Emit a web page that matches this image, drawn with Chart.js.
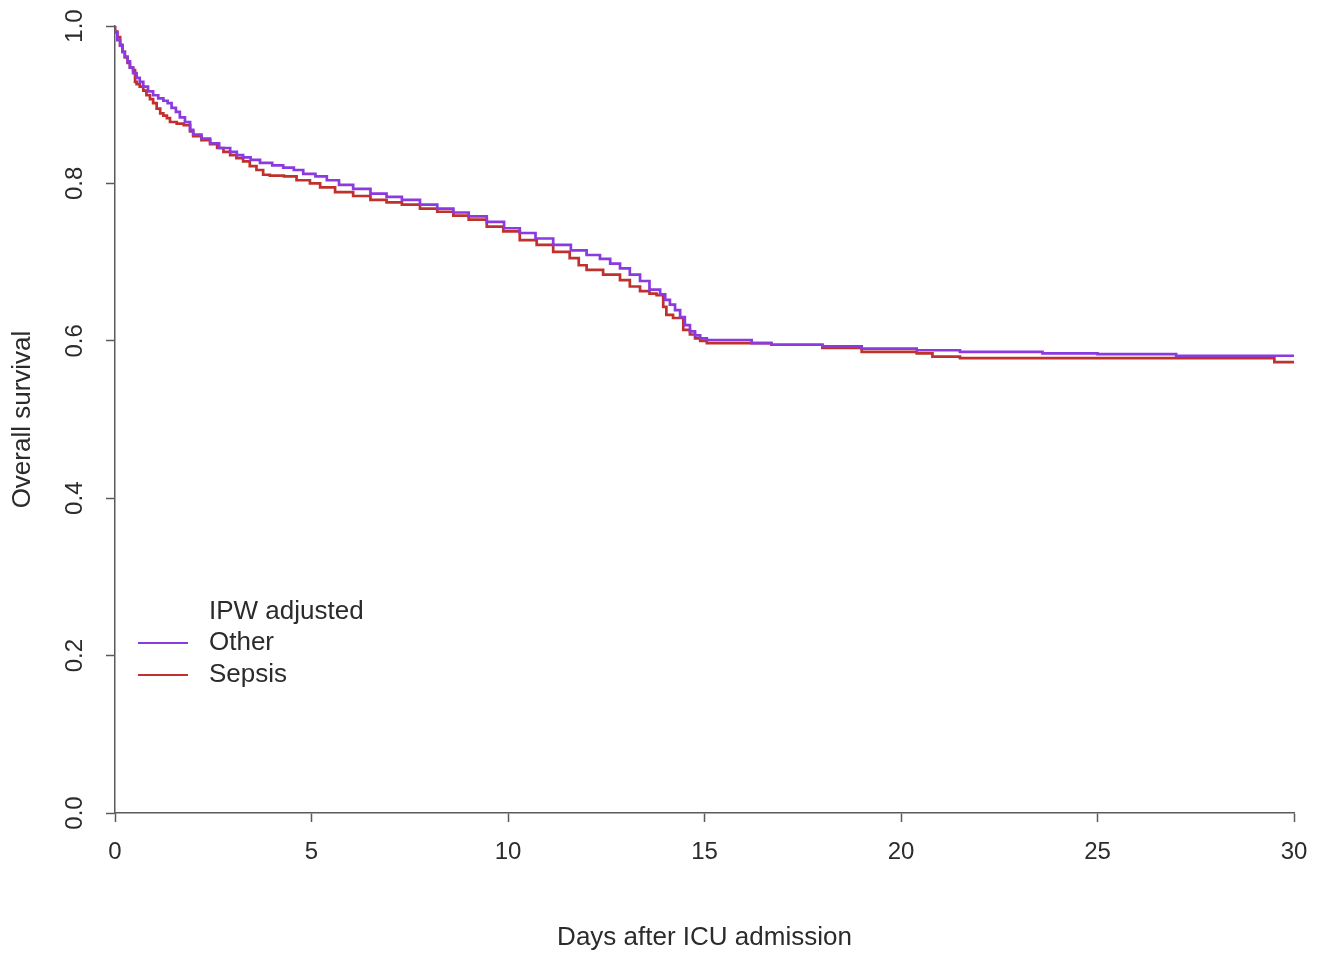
<!DOCTYPE html>
<html>
<head>
<meta charset="utf-8">
<script src="https://cdn.jsdelivr.net/npm/chart.js@4/dist/chart.umd.min.js"></script>
<style>
    html, body { margin: 0; padding: 0; background: #fff; }
    #wrap { width: 1317px; height: 953px; }
</style>
</head>
<body>
<div id="wrap"><canvas id="kmChart"></canvas></div>
<script>
// days after ICU admission and survival estimates
let otherDays = [0, 0.06, 0.13, 0.19, 0.25, 0.32, 0.38, 0.46, 0.55, 0.63, 0.72, 0.84, 0.97, 1.1, 1.23, 1.34, 1.44, 1.55, 1.65, 1.78,
    1.91, 1.99, 2.2, 2.42, 2.65, 2.93, 3.1, 3.26, 3.45, 3.69, 4.0, 4.28, 4.55, 4.79, 5.1, 5.39, 5.7, 6.06, 6.5, 6.91,
    7.3, 7.76, 8.2, 8.61, 9.0, 9.46, 9.9, 10.3, 10.7, 11.15, 11.6, 12.0, 12.34, 12.6, 12.85, 13.1, 13.36, 13.6, 13.87, 14.0,
    14.12, 14.25, 14.38, 14.5, 14.63, 14.76, 14.89, 15.06, 16.2, 16.7, 18.0, 19.0, 20.4, 21.5, 23.6, 25.0, 27.0, 28.0, 30.0];
let otherSurv = [1.0, 0.992, 0.982, 0.975, 0.967, 0.961, 0.955, 0.947, 0.940, 0.934, 0.929, 0.923, 0.917, 0.912, 0.908, 0.905, 0.902, 0.896, 0.891, 0.884,
    0.878, 0.868, 0.862, 0.857, 0.851, 0.845, 0.840, 0.836, 0.833, 0.830, 0.826, 0.823, 0.820, 0.817, 0.812, 0.809, 0.804, 0.798, 0.793, 0.787,
    0.783, 0.779, 0.773, 0.768, 0.763, 0.758, 0.751, 0.743, 0.737, 0.730, 0.722, 0.715, 0.709, 0.704, 0.698, 0.692, 0.684, 0.676, 0.665, 0.659,
    0.652, 0.646, 0.639, 0.630, 0.620, 0.612, 0.607, 0.603, 0.601, 0.597, 0.595, 0.593, 0.590, 0.588, 0.586, 0.584, 0.583, 0.581, 0.581];

let sepsisDays = [0, 0.06, 0.13, 0.19, 0.25, 0.32, 0.38, 0.46, 0.51, 0.55, 0.63, 0.72, 0.8, 0.89, 0.97, 1.06, 1.15, 1.23, 1.32, 1.4,
    1.57, 1.75, 1.91, 1.99, 2.2, 2.42, 2.6, 2.76, 2.93, 3.09, 3.26, 3.43, 3.6, 3.77, 3.94, 4.3, 4.62, 4.96, 5.22, 5.6,
    6.06, 6.5, 6.91, 7.3, 7.76, 8.2, 8.61, 9.0, 9.46, 9.88, 10.3, 10.73, 11.15, 11.57, 11.8, 12.0, 12.42, 12.85, 13.1, 13.36,
    13.6, 13.78, 13.95, 14.03, 14.2, 14.46, 14.63, 14.76, 14.89, 15.06, 16.7, 18.0, 19.0, 20.4, 20.8, 21.5, 29.5, 30.0];
let sepsisSurv = [1.0, 0.993, 0.986, 0.976, 0.967, 0.960, 0.953, 0.947, 0.944, 0.929, 0.926, 0.923, 0.918, 0.912, 0.907, 0.902, 0.895, 0.889, 0.886, 0.883,
    0.878, 0.876, 0.874, 0.866, 0.860, 0.855, 0.850, 0.845, 0.840, 0.836, 0.832, 0.828, 0.822, 0.817, 0.811, 0.810, 0.809, 0.804, 0.800, 0.795,
    0.789, 0.784, 0.779, 0.776, 0.773, 0.768, 0.764, 0.759, 0.754, 0.745, 0.739, 0.728, 0.722, 0.713, 0.705, 0.696, 0.690, 0.684, 0.677, 0.669,
    0.663, 0.660, 0.658, 0.643, 0.633, 0.629, 0.614, 0.608, 0.603, 0.600, 0.597, 0.595, 0.591, 0.586, 0.584, 0.580, 0.578, 0.573];

let xTicks = [0, 5, 10, 15, 20, 25, 30];
let yTicks = [0.0, 0.2, 0.4, 0.6, 0.8, 1.0];
let groupNames = ['Other', 'Sepsis'];
let legendTitle = 'IPW adjusted';

let lineColors = ['#8b3ae0', '#c0302c'];
let axisColor = '#5a5a5a';
let textColor = '#2b2b2b';
let fontFamily = '"Liberation Sans", Arial, sans-serif';

let toPoints = (days, surv) => days.map((d, i) => ({ x: d, y: surv[i] }));

// R-style legend inside the plot, lower left
const kmLegend = {
    id: 'kmLegend',
    afterDraw(chart) {
        const { ctx, chartArea } = chart;
        const x0 = chartArea.left + 23;
        const textX = chartArea.left + 94;
        const y0 = chartArea.top + 586;
        ctx.save();
        ctx.font = '26px ' + fontFamily;
        ctx.fillStyle = textColor;
        ctx.textBaseline = 'middle';
        ctx.textAlign = 'left';
        ctx.fillText(legendTitle, textX, y0);
        chart.data.datasets.forEach((ds, i) => {
            const y = y0 + 31 + i * 32;
            ctx.strokeStyle = ds.borderColor;
            ctx.lineWidth = 2.2;
            ctx.beginPath();
            ctx.moveTo(x0, y);
            ctx.lineTo(x0 + 50, y);
            ctx.stroke();
            ctx.fillText(ds.label, textX, y);
        });
        ctx.restore();
    }
};

const ctx = document.getElementById('kmChart');
const kmChart = new Chart(ctx, {
    type: 'line',
    data: {
        datasets: [{
            label: groupNames[0],
            data: toPoints(otherDays, otherSurv),
            borderColor: lineColors[0],
            borderWidth: 2.7,
            stepped: 'after',
            pointRadius: 0,
            fill: false
        }, {
            label: groupNames[1],
            data: toPoints(sepsisDays, sepsisSurv),
            borderColor: lineColors[1],
            borderWidth: 2.7,
            stepped: 'after',
            pointRadius: 0,
            fill: false
        }]
    },
    options: {
        responsive: true,
        maintainAspectRatio: false,
        animation: false,
        layout: {
            padding: { top: 26, right: 23, bottom: 0, left: 0 }
        },
        plugins: {
            legend: { display: false },
            tooltip: { enabled: false }
        },
        scales: {
            x: {
                type: 'linear',
                min: 0,
                max: 30,
                afterBuildTicks: (scale) => {
                    scale.ticks = xTicks.map(v => ({ value: v }));
                },
                afterFit: (scale) => {
                    scale.height = 140;
                    scale.paddingLeft = 0;
                    scale.paddingRight = 0;
                },
                border: { display: true, color: axisColor, width: 1.5 },
                grid: {
                    display: true,
                    drawOnChartArea: false,
                    drawTicks: true,
                    tickLength: 9,
                    tickWidth: 1.5,
                    tickColor: axisColor
                },
                ticks: {
                    color: textColor,
                    font: { family: fontFamily, size: 24 },
                    padding: 16,
                    maxRotation: 0,
                    minRotation: 0
                },
                title: {
                    display: true,
                    text: 'Days after ICU admission',
                    color: textColor,
                    font: { family: fontFamily, size: 26 },
                    padding: { top: 0, bottom: 0 }
                }
            },
            y: {
                type: 'linear',
                min: 0,
                max: 1,
                afterBuildTicks: (scale) => {
                    scale.ticks = yTicks.map(v => ({ value: v }));
                },
                afterFit: (scale) => {
                    scale.width = 115;
                    scale.paddingTop = 0;
                    scale.paddingBottom = 0;
                },
                border: { display: true, color: axisColor, width: 1.5 },
                grid: {
                    display: true,
                    drawOnChartArea: false,
                    drawTicks: true,
                    tickLength: 9,
                    tickWidth: 1.5,
                    tickColor: axisColor
                },
                ticks: {
                    color: textColor,
                    font: { family: fontFamily, size: 24 },
                    padding: 14,
                    crossAlign: 'center',
                    minRotation: 90,
                    maxRotation: 90,
                    callback: (v) => v.toFixed(1)
                },
                title: {
                    display: true,
                    text: 'Overall survival',
                    color: textColor,
                    font: { family: fontFamily, size: 26 },
                    padding: { top: 7, bottom: 0 }
                }
            }
        }
    },
    plugins: [kmLegend]
});
</script>
</body>
</html>
